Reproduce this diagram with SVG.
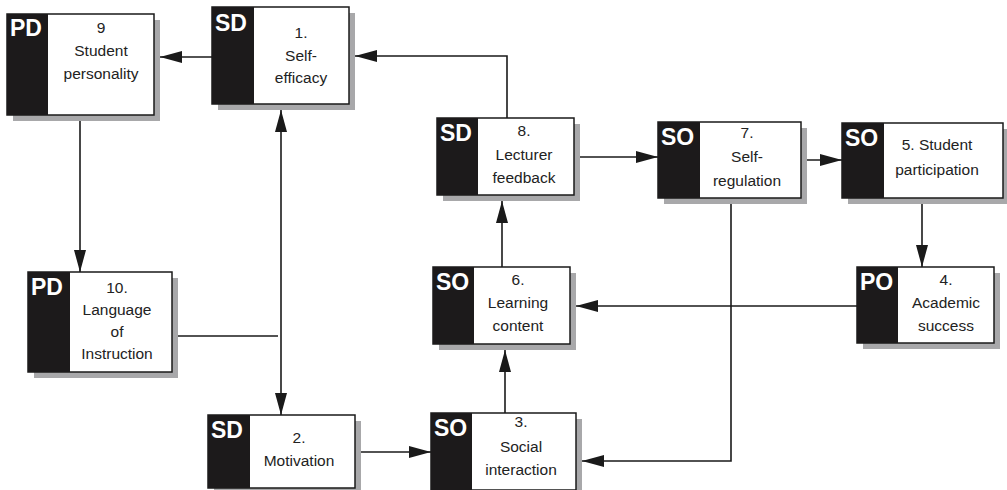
<svg xmlns="http://www.w3.org/2000/svg" width="1007" height="490" viewBox="0 0 1007 490">
<defs>
<marker id="ah" markerWidth="22" markerHeight="12" refX="22" refY="6" orient="auto-start-reverse" markerUnits="userSpaceOnUse"><path d="M0,0 L22,6 L0,12 z" fill="#1a1a1a"/></marker>
</defs>
<style>
.sh{fill:#a8a8aa}
.box{fill:#fff;stroke:#1a1a1a;stroke-width:1.5}
.bar{fill:#1c1a1b}
.tag{font-family:"Liberation Sans",Arial,sans-serif;font-weight:bold;font-size:23px;fill:#fff}
.t{font-family:"Liberation Sans",Arial,sans-serif;font-size:15.5px;fill:#222;text-anchor:middle}
.c{fill:none;stroke:#1a1a1a;stroke-width:1.6}
</style>
<rect width="1007" height="490" fill="#fff"/>
<g id="connectors">
<path class="c" d="M212,57 L160,57" marker-end="url(#ah)"/>
<path class="c" d="M507,118 L507,56 L355,56" marker-end="url(#ah)"/>
<path class="c" d="M80,115 L80,272" marker-end="url(#ah)"/>
<path class="c" d="M281,110 L281,415" marker-start="url(#ah)" marker-end="url(#ah)"/>
<path class="c" d="M172,336 L278,336"/>
<path class="c" d="M355,452 L431,452" marker-end="url(#ah)"/>
<path class="c" d="M505,413 L505,350" marker-end="url(#ah)"/>
<path class="c" d="M502,267 L502,201" marker-end="url(#ah)"/>
<path class="c" d="M574,157 L658,157" marker-end="url(#ah)"/>
<path class="c" d="M801,160 L842,160" marker-end="url(#ah)"/>
<path class="c" d="M922,198 L922,267" marker-end="url(#ah)"/>
<path class="c" d="M857,306 L576,306" marker-end="url(#ah)"/>
<path class="c" d="M731,198 L731,461 L582,461" marker-end="url(#ah)"/>
</g>
<g id="n9">
<rect class="sh" x="13" y="20" width="147" height="101"/>
<rect class="box" x="7" y="14" width="147" height="101"/>
<rect class="bar" x="7" y="14" width="41" height="101"/>
<text class="tag" x="10" y="36">PD</text>
<text class="t" x="101" y="33">9</text>
<text class="t" x="101" y="56">Student</text>
<text class="t" x="101" y="79">personality</text>
</g>
<g id="n1">
<rect class="sh" x="218" y="13" width="137" height="97"/>
<rect class="box" x="212" y="7" width="137" height="97"/>
<rect class="bar" x="212" y="7" width="42" height="97"/>
<text class="tag" x="215" y="31">SD</text>
<text class="t" x="301" y="38">1.</text>
<text class="t" x="301" y="61">Self-</text>
<text class="t" x="301" y="83">efficacy</text>
</g>
<g id="n8">
<rect class="sh" x="443" y="124" width="137" height="77"/>
<rect class="box" x="437" y="118" width="137" height="77"/>
<rect class="bar" x="437" y="118" width="41" height="77"/>
<text class="tag" x="440" y="141">SD</text>
<text class="t" x="524" y="136">8.</text>
<text class="t" x="524" y="160">Lecturer</text>
<text class="t" x="524" y="183">feedback</text>
</g>
<g id="n7">
<rect class="sh" x="664" y="128" width="143" height="76"/>
<rect class="box" x="658" y="122" width="143" height="76"/>
<rect class="bar" x="658" y="122" width="42" height="76"/>
<text class="tag" x="661" y="145">SO</text>
<text class="t" x="747" y="138">7.</text>
<text class="t" x="747" y="162">Self-</text>
<text class="t" x="747" y="186">regulation</text>
</g>
<g id="n5">
<rect class="sh" x="848" y="129" width="161" height="75"/>
<rect class="box" x="842" y="123" width="161" height="75"/>
<rect class="bar" x="842" y="123" width="42" height="75"/>
<text class="tag" x="845" y="146">SO</text>
<text class="t" x="937" y="150">5. Student</text>
<text class="t" x="937" y="175">participation</text>
</g>
<g id="n6">
<rect class="sh" x="439" y="273" width="137" height="77"/>
<rect class="box" x="433" y="267" width="137" height="77"/>
<rect class="bar" x="433" y="267" width="41" height="77"/>
<text class="tag" x="436" y="290">SO</text>
<text class="t" x="518" y="285">6.</text>
<text class="t" x="518" y="308">Learning</text>
<text class="t" x="518" y="331">content</text>
</g>
<g id="n4">
<rect class="sh" x="863" y="273" width="137" height="76"/>
<rect class="box" x="857" y="267" width="137" height="76"/>
<rect class="bar" x="857" y="267" width="41" height="76"/>
<text class="tag" x="860" y="290">PO</text>
<text class="t" x="946" y="285">4.</text>
<text class="t" x="946" y="308">Academic</text>
<text class="t" x="946" y="331">success</text>
</g>
<g id="n10">
<rect class="sh" x="34" y="278" width="144" height="100"/>
<rect class="box" x="28" y="272" width="144" height="100"/>
<rect class="bar" x="28" y="272" width="42" height="100"/>
<text class="tag" x="31" y="295">PD</text>
<text class="t" x="117" y="293">10.</text>
<text class="t" x="117" y="315">Language</text>
<text class="t" x="117" y="337">of</text>
<text class="t" x="117" y="359">Instruction</text>
</g>
<g id="n2">
<rect class="sh" x="214" y="421" width="147" height="73"/>
<rect class="box" x="208" y="415" width="147" height="73"/>
<rect class="bar" x="208" y="415" width="42" height="73"/>
<text class="tag" x="211" y="438">SD</text>
<text class="t" x="299" y="443">2.</text>
<text class="t" x="299" y="466">Motivation</text>
</g>
<g id="n3">
<rect class="sh" x="437" y="419" width="145" height="77"/>
<rect class="box" x="431" y="413" width="145" height="77"/>
<rect class="bar" x="431" y="413" width="41" height="77"/>
<text class="tag" x="434" y="436">SO</text>
<text class="t" x="521" y="427">3.</text>
<text class="t" x="521" y="452">Social</text>
<text class="t" x="521" y="475">interaction</text>
</g>
</svg>
